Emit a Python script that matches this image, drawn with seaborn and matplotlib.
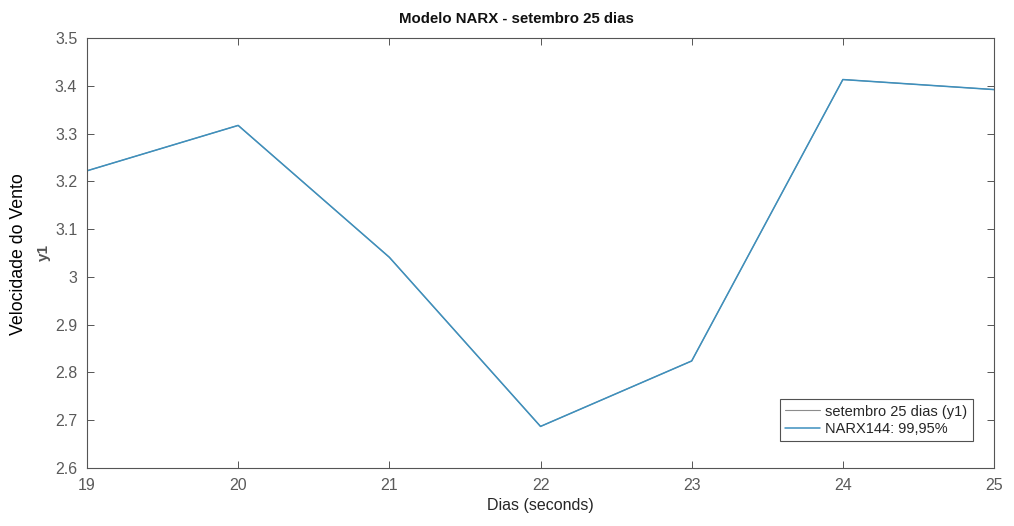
import matplotlib
matplotlib.use("Agg")
import matplotlib.pyplot as plt
import seaborn as sns
import pandas as pd

# Daily wind speed, measured vs. NARX model output
dias = [19, 20, 21, 22, 23, 24, 25]
medido = [3.222, 3.317, 3.041, 2.687, 2.824, 3.413, 3.392]
narx = [3.222, 3.317, 3.041, 2.687, 2.824, 3.413, 3.392]

sns.set_theme(style="white")
plt.rcParams["font.family"] = ["Liberation Sans", "DejaVu Sans"]

df = pd.DataFrame({"dias": dias, "medido": medido, "narx": narx})

fig = plt.figure(figsize=(10.14, 5.26), dpi=100)
ax = fig.add_axes([0.0858, 0.1103, 0.8945, 0.8175])

sns.lineplot(data=df, x="dias", y="medido", ax=ax, color="#8c8c8c", lw=0.8,
             label="setembro 25 dias (y1)")
sns.lineplot(data=df, x="dias", y="narx", ax=ax, color="#3d90be", lw=1.1,
             label="NARX144: 99,95%")

ax.set_xlim(19, 25)
ax.set_ylim(2.6, 3.5)
ax.set_xticks(dias)
ax.set_yticks([2.6, 2.7, 2.8, 2.9, 3.0, 3.1, 3.2, 3.3, 3.4, 3.5])
ax.set_yticklabels(["2.6", "2.7", "2.8", "2.9", "3", "3.1", "3.2", "3.3", "3.4", "3.5"])

grey = "#262626"
for s in ax.spines.values():
    s.set_visible(True)
    s.set_color("#555555")
    s.set_linewidth(0.8)
ax.tick_params(direction="in", length=5, width=0.7, color="#555555",
               labelcolor="#5a5a5a", labelsize=11.5, top=True, right=True,
               bottom=True, left=True, pad=7)

fig.text(0.509, 0.963, "Modelo NARX - setembro 25 dias", fontsize=10.8,
         fontweight="bold", color="#111111", ha="center", va="center")
ax.set_xlabel("Dias (seconds)", fontsize=11.5, color=grey, labelpad=4)
ax.set_ylabel("y1", fontsize=11, fontweight="bold", color="#555555", labelpad=3)
fig.text(0.018, 0.517, "Velocidade do Vento", rotation=90, fontsize=12.8,
         color="black", ha="center", va="center")

leg = ax.legend(loc="lower right", bbox_to_anchor=(0.9765, 0.062), fontsize=10.5,
                frameon=True, fancybox=False, handlelength=2.4, handletextpad=0.35,
                borderpad=0.35, labelspacing=0.25, borderaxespad=0)
leg.get_frame().set_edgecolor("#262626")
leg.get_frame().set_linewidth(0.8)

fig.savefig("out.png", dpi=100)
